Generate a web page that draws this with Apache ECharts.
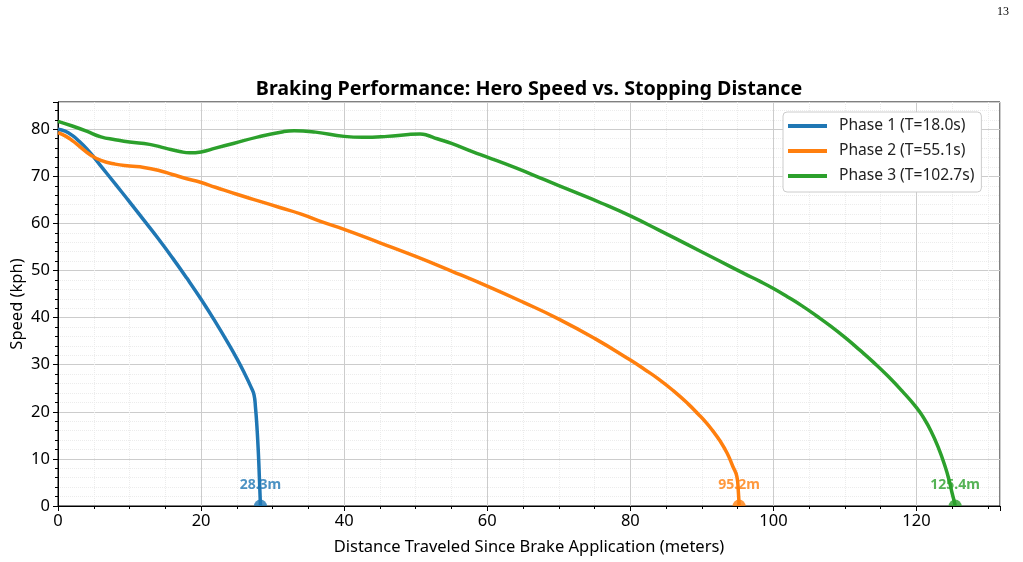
<!DOCTYPE html>
<html>
<head>
<meta charset="utf-8">
<script src="https://cdn.jsdelivr.net/npm/echarts@6/dist/echarts.min.js"></script>
<style>html,body{margin:0;padding:0;background:#fff}#c{width:1023px;height:562px}</style>
</head>
<body>
<div id="c"></div>
<script>
// ---- data ----
const phaseNames = ['Phase 1 (T=18.0s)', 'Phase 2 (T=55.1s)', 'Phase 3 (T=102.7s)'];
const phase1X = [0, 1, 2, 3, 4, 5, 6, 8, 10, 12, 14, 16, 18, 20, 22, 24, 25, 26, 27, 27.4, 27.6, 27.8, 28.0, 28.15, 28.3];
const phase1Y = [80, 79.6, 78.7, 77.4, 75.9, 74.1, 72.2, 68.4, 64.6, 60.7, 56.8, 52.7, 48.4, 43.9, 39.1, 34.0, 31.3, 28.4, 25.2, 23.6, 21, 17, 11.5, 6, 0];
const phase2X = [0, 1, 2, 3, 4.5, 6, 8, 10, 12, 14, 16, 18, 19.8, 22, 25, 28, 31, 34, 37, 40, 45, 50, 55, 60, 65, 70, 75, 80, 82, 84, 86, 88, 89.5, 90.6, 91.5, 92.5, 93.5, 94.3, 94.9, 95.1, 95.2];
const phase2Y = [79.3, 78.6, 77.6, 76.4, 74.6, 73.4, 72.6, 72.2, 71.9, 71.3, 70.4, 69.5, 68.8, 67.7, 66.2, 64.8, 63.4, 62.0, 60.3, 58.75, 55.9, 53.0, 49.9, 46.7, 43.3, 39.7, 35.6, 31.0, 29.0, 26.9, 24.5, 21.8, 19.5, 17.7, 16.0, 13.9, 11.3, 8.5, 6.2, 3, 0];
const phase3X = [0, 2, 4, 6, 8, 10, 12.8, 15, 17, 18.4, 20, 22, 24.5, 28, 31.5, 33, 36, 40, 42.6, 46, 49, 50.6, 51.5, 53, 55, 58, 60, 64, 68, 72, 76, 80, 84, 88, 92, 96, 98, 100, 102, 104, 106, 108, 110, 112, 114, 116, 118, 120, 121, 122, 123, 124, 124.6, 125, 125.3, 125.4];
const phase3Y = [81.7, 80.7, 79.6, 78.4, 77.8, 77.3, 76.8, 76.0, 75.3, 75.0, 75.2, 76.0, 77.0, 78.4, 79.5, 79.7, 79.4, 78.5, 78.3, 78.5, 78.9, 79.0, 78.8, 78.0, 77.0, 75.2, 74.1, 71.8, 69.3, 66.8, 64.3, 61.6, 58.6, 55.5, 52.4, 49.3, 47.8, 46.2, 44.4, 42.5, 40.4, 38.2, 35.8, 33.2, 30.5, 27.6, 24.4, 20.9, 18.7, 16.0, 12.6, 8.4, 5.2, 2.6, 0.8, 0];
const stopDist = [28.3, 95.2, 125.4];
const xTicks = [0, 20, 40, 60, 80, 100, 120];
const yTicks = [0, 10, 20, 30, 40, 50, 60, 70, 80];

const colors = ['#1f77b4', '#ff7f0e', '#2ca02c'];
const FONT = 'Noto Sans';
const xs = [phase1X, phase2X, phase3X];
const ys = [phase1Y, phase2Y, phase3Y];

const series = [];
for (let i = 0; i < 3; i++) {
  series.push({
    name: phaseNames[i], type: 'line', data: xs[i].map((x, k) => [x, ys[i][k]]),
    showSymbol: false, smooth: 0.5, smoothConstraint: false, lineStyle: { width: 3.5, color: colors[i] },
    itemStyle: { color: colors[i] }, z: 3
  });
}
for (let i = 0; i < 3; i++) {
  series.push({
    name: 'end' + i, type: 'scatter', data: [[stopDist[i], 0]],
    symbol: 'path://M-1,0 A1,1 0 0 1 1,0 Z', symbolSize: [13, 6.5], symbolOffset: [0, -3.25],
    itemStyle: { color: colors[i] }, z: 4,
    label: { show: true, position: 'inside', offset: [0, -18], formatter: stopDist[i].toFixed(1) + 'm',
      color: colors[i], fontWeight: 'bold', fontSize: 14, fontFamily: FONT },
    silent: true
  });
}

const chart = echarts.init(document.getElementById('c'), null, { renderer: 'canvas' });
chart.setOption({
  animation: false,
  backgroundColor: '#fff',
  title: { text: 'Braking Performance: Hero Speed vs. Stopping Distance', left: 524, textAlign: 'center', top: 74,
    textStyle: { fontFamily: FONT, fontWeight: 'bold', fontSize: 19.7, color: '#000' } },
  graphic: [{ type: 'text', left: 997, top: 6, style: { text: '13', font: '12px "Liberation Serif"', fill: '#000' } }],
  legend: {
    data: phaseNames, orient: 'vertical', left: 783, top: 112, padding: [4, 7, 6, 5], itemGap: 5,
    icon: 'rect', itemWidth: 39, itemHeight: 4,
    backgroundColor: '#fff', borderColor: '#cccccc', borderWidth: 1, borderRadius: 4,
    textStyle: { fontFamily: FONT, fontSize: 15.6, lineHeight: 20, color: '#222', padding: [0, 0, 0, 7] }
  },
  grid: { left: 58, right: 23, top: 102, bottom: 56, outerBoundsMode: 'none', containLabel: false,
    show: true, borderColor: '#000', borderWidth: 1, backgroundColor: 'transparent' },
  xAxis: {
    type: 'value', min: 0, max: 131.67, interval: 20,
    name: 'Distance Traveled Since Brake Application (meters)', nameLocation: 'middle', nameGap: 33,
    nameMoveOverlap: false,
    nameTextStyle: { fontFamily: FONT, fontSize: 16.5, color: '#000' },
    axisLine: { show: true, onZero: false, lineStyle: { color: '#000' } },
    axisTick: { show: true, length: 5, lineStyle: { color: '#000' } },
    minorTick: { show: true, splitNumber: 4, length: 3, lineStyle: { color: '#000' } },
    axisLabel: { fontFamily: FONT, fontSize: 16.5, color: '#000', margin: 7,
      formatter: v => (xTicks.indexOf(v) >= 0 ? String(v) : '') },
    splitLine: { show: true, lineStyle: { color: '#cccccc', width: 1 } },
    minorSplitLine: { show: true, lineStyle: { color: '#ececec', type: 'dotted', width: 1 } }
  },
  yAxis: {
    type: 'value', min: 0, max: 85.8, interval: 10,
    name: 'Speed (kph)', nameLocation: 'middle', nameGap: 32, nameRotate: 90,
    nameMoveOverlap: false,
    nameTextStyle: { fontFamily: FONT, fontSize: 16.5, color: '#000' },
    axisLine: { show: true, lineStyle: { color: '#000' } },
    axisTick: { show: true, length: 5, lineStyle: { color: '#000' } },
    minorTick: { show: true, splitNumber: 5, length: 3, lineStyle: { color: '#000' } },
    axisLabel: { fontFamily: FONT, fontSize: 16.5, color: '#000', margin: 8, showMaxLabel: false,
      formatter: v => (yTicks.indexOf(v) >= 0 ? String(v) : '') },
    splitLine: { show: true, lineStyle: { color: '#cccccc', width: 1 } },
    minorSplitLine: { show: true, lineStyle: { color: '#ececec', type: 'dotted', width: 1 } }
  },
  series: series
});
</script>
</body>
</html>
